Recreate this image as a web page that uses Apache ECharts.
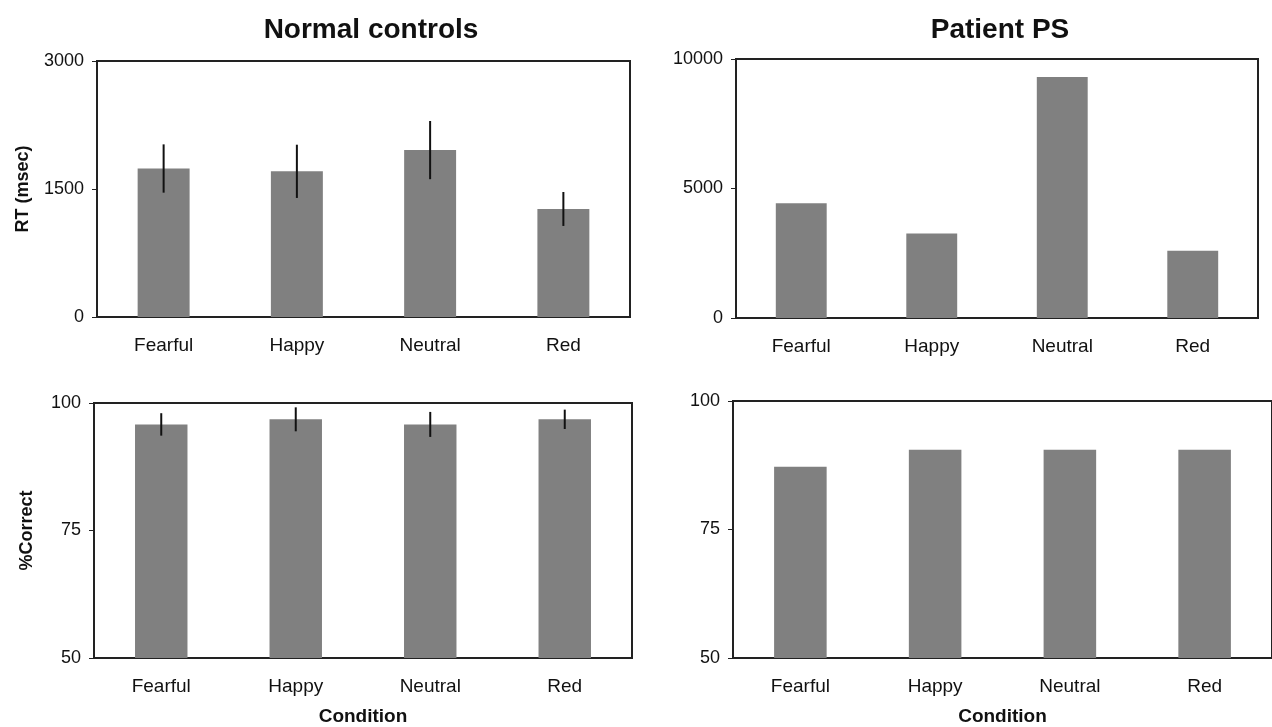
<!DOCTYPE html>
<html lang="en">

<head>
    <meta charset="UTF-8">
    <title>RT and accuracy by condition</title>
    <style>
        html, body { margin: 0; padding: 0; background: #fff; }
    </style>
</head>

<body>
    <div id="chart" style="width:1272px;height:727px;"></div>
</body>
<script src="https://cdn.jsdelivr.net/npm/echarts@6.0.0/dist/echarts.min.js"></script>
<script>
    // data
    var categories = ['Fearful', 'Happy', 'Neutral', 'Red'];
    var controlsRT = [1740, 1707, 1956, 1266];
    var controlsRTErr = [283, 312, 341, 199];
    var patientRT = [4427, 3266, 9303, 2593];
    var controlsAcc = [95.8, 96.8, 95.8, 96.8];
    var controlsAccErr = [2.2, 2.35, 2.45, 1.9];
    var patientAcc = [87.2, 90.5, 90.5, 90.5];

    var font = "'Liberation Sans', Arial, sans-serif";
    var ink = '#111';
    var lineCol = '#222';
    var barCol = '#808080';

    function xAxisFor(idx, withName) {
        return {
            type: 'category',
            gridIndex: idx,
            data: categories,
            name: withName ? 'Condition' : '',
            nameLocation: 'middle',
            nameGap: 49,
            nameTextStyle: { fontFamily: font, fontSize: 19, fontWeight: 'bold', color: ink },
            axisLine: { lineStyle: { color: lineCol, width: 2 } },
            axisTick: { length: 6, lineStyle: { color: lineCol, width: 1 } },
            axisLabel: { fontFamily: font, fontSize: 19, color: ink, margin: 19 },
            splitLine: { show: false }
        };
    }

    function yAxisFor(idx, min, max, step, name, gap) {
        return {
            type: 'value',
            gridIndex: idx,
            min: min,
            max: max,
            interval: step,
            name: name,
            nameLocation: 'middle',
            nameGap: gap,
            nameTextStyle: { fontFamily: font, fontSize: 18, fontWeight: 'bold', color: ink },
            axisLine: { show: true, lineStyle: { color: lineCol, width: 2 } },
            axisTick: { show: true, length: 5, lineStyle: { color: lineCol, width: 1 } },
            axisLabel: {
                fontFamily: font, fontSize: 18, color: ink, margin: 13,
                formatter: function (v) { return String(v); }
            },
            splitLine: { show: false }
        };
    }

    function bars(idx, values) {
        return {
            type: 'bar',
            xAxisIndex: idx,
            yAxisIndex: idx,
            data: values,
            barWidth: '39%',
            itemStyle: { color: barCol },
            silent: true
        };
    }

    function errorBars(idx, values, errs) {
        var pts = values.map(function (v, i) { return [i, v - errs[i], v + errs[i]]; });
        return {
            type: 'custom',
            xAxisIndex: idx,
            yAxisIndex: idx,
            data: pts,
            z: 5,
            silent: true,
            renderItem: function (params, api) {
                var lo = api.coord([api.value(0), api.value(1)]);
                var hi = api.coord([api.value(0), api.value(2)]);
                return {
                    type: 'line',
                    shape: { x1: lo[0], y1: lo[1], x2: hi[0], y2: hi[1] },
                    style: { stroke: '#111', lineWidth: 2 }
                };
            }
        };
    }

    var gridStyle = { show: true, borderColor: lineCol, borderWidth: 2, backgroundColor: 'transparent' };

    var chart = echarts.init(document.getElementById('chart'));
    chart.setOption({
        animation: false,
        title: [
            { text: 'Normal controls', left: 366, top: 11, textAlign: 'center',
              textStyle: { fontFamily: font, fontSize: 28, fontWeight: 'bold', color: ink } },
            { text: 'Patient PS', left: 995, top: 11, textAlign: 'center',
              textStyle: { fontFamily: font, fontSize: 28, fontWeight: 'bold', color: ink } }
        ],
        grid: [
            Object.assign({ left: 97, top: 61, width: 533, height: 256 }, gridStyle),
            Object.assign({ left: 736, top: 59, width: 522, height: 259 }, gridStyle),
            Object.assign({ left: 94, top: 403, width: 538, height: 256 }, gridStyle),
            Object.assign({ left: 733, top: 401, width: 547, height: 258 }, gridStyle)
        ],
        xAxis: [xAxisFor(0, false), xAxisFor(1, false), xAxisFor(2, true), xAxisFor(3, true)],
        yAxis: [
            yAxisFor(0, 0, 3000, 1500, 'RT (msec)', 65),
            yAxisFor(1, 0, 10000, 5000, '', 0),
            yAxisFor(2, 50, 100, 25, '%Correct', 58),
            yAxisFor(3, 50, 100, 25, '', 0)
        ],
        series: [
            bars(0, controlsRT),
            errorBars(0, controlsRT, controlsRTErr),
            bars(1, patientRT),
            bars(2, controlsAcc),
            errorBars(2, controlsAcc, controlsAccErr),
            bars(3, patientAcc)
        ]
    });
</script>

</html>
